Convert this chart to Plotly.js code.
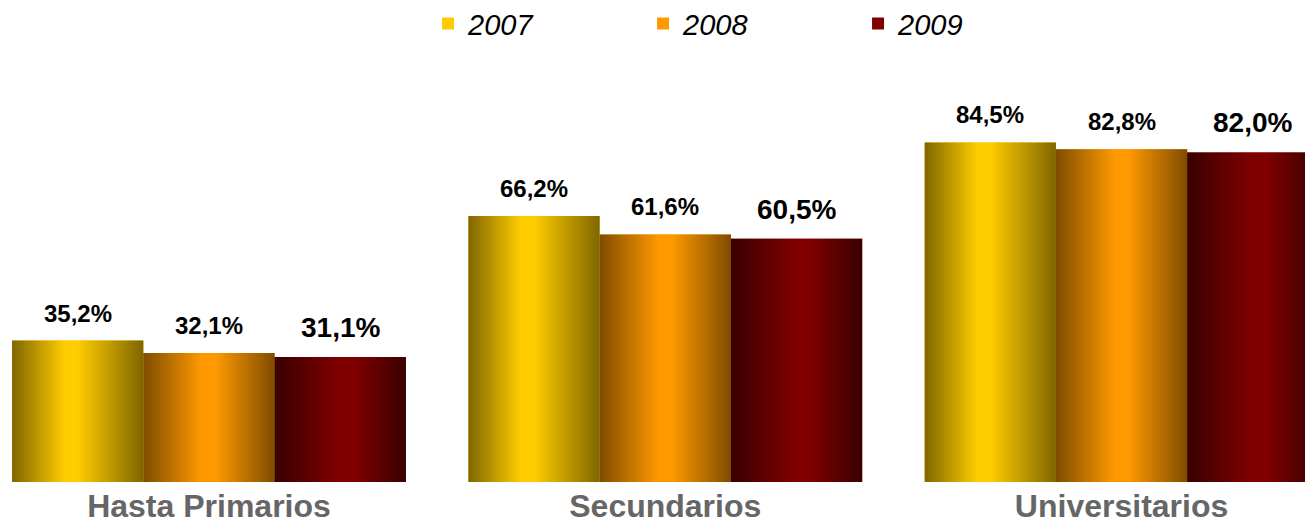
<!DOCTYPE html>
<html>
<head>
<meta charset="utf-8">
<script src="https://cdn.plot.ly/plotly-3.0.1.min.js"></script>
<style>html,body{margin:0;padding:0;background:#fff;}#chart{width:1305px;height:525px;}</style>
</head>
<body>
<div id="chart"></div>
<script>
// ---- data ----
const categories = ['Hasta Primarios', 'Secundarios', 'Universitarios'];
const years = ['2007', '2008', '2009'];
const values2007 = [35.2, 66.2, 84.5];
const values2008 = [32.1, 61.6, 82.8];
const values2009 = [31.1, 60.5, 82.0];

// ---- styles ----
const lightColors = ['#ffcc00', '#ff9900', '#800000'];
const darkColors = ['#7f6600', '#7f4c00', '#3a0000'];
const peakStart = [0.40, 0.45, 0.50];
const peakEnd = [0.50, 0.55, 0.60];
const labelSizes = [24, 24, 28];
const FONT = 'Liberation Sans, Arial, Helvetica, sans-serif';

const series = [values2007, values2008, values2009];
const catIdx = categories.map((_, i) => i);
const bargap = 0.137;
const groupW = 1 - bargap;
const barW = groupW / years.length;

const fmt = v => v.toFixed(1).replace('.', ',') + '%';

const traces = [];
const annotations = [];

// real bar traces (legend + geometry)
series.forEach((vals, s) => {
  const off = -groupW / 2 + s * barW;
  traces.push({
    type: 'bar', name: years[s], x: catIdx, y: vals,
    width: barW, offset: off,
    marker: {color: lightColors[s], line: {width: 0}},
    hovertemplate: '%{y:.1f}%<extra>' + years[s] + '</extra>'
  });
});

// gradient shading on top of each bar (same geometry, derived from the data)
series.forEach((vals, s) => {
  const off = -groupW / 2 + s * barW;
  vals.forEach((v, c) => {
    const x0 = c + off, x1 = x0 + barW;
    traces.push({
      type: 'scatter', mode: 'lines',
      x: [x0, x1, x1, x0, x0], y: [0, 0, v, v, 0],
      fill: 'toself', line: {width: 0},
      fillgradient: {type: 'horizontal', colorscale: [
        [0, darkColors[s]], [peakStart[s], lightColors[s]],
        [peakEnd[s], lightColors[s]], [1, darkColors[s]]]},
      hoverinfo: 'skip', showlegend: false
    });
    annotations.push({
      x: x0 + barW / 2, y: v, xref: 'x', yref: 'y',
      text: '<b>' + fmt(v) + '</b>', showarrow: false,
      yanchor: 'bottom', yshift: 12,
      font: {family: FONT, size: labelSizes[s], color: '#000000'}
    });
  });
});

const layout = {
  width: 1305, height: 525,
  margin: {l: 0, r: 0, t: 60, b: 43},
  paper_bgcolor: '#ffffff', plot_bgcolor: '#ffffff',
  barmode: 'overlay',
  showlegend: true,
  legend: {
    orientation: 'h', x: 0.328, xanchor: 'left', y: 0.955, yref: 'container', yanchor: 'middle',
    font: {family: FONT, size: 29, style: 'italic', color: '#000000'},
    entrywidth: 170, entrywidthmode: 'pixels', traceorder: 'normal'
  },
  xaxis: {
    range: [-0.458, 2.402], tickvals: catIdx, ticktext: categories,
    showgrid: false, zeroline: false, showline: false, ticks: '',
    tickfont: {family: FONT, size: 32, color: '#666666', weight: 'bold'},
    ticklabelstandoff: 2,
    automargin: false, fixedrange: true
  },
  yaxis: {range: [0, 105], visible: false, fixedrange: true},
  annotations: annotations,
  font: {family: FONT}
};

Plotly.newPlot('chart', traces, layout, {displayModeBar: false, staticPlot: false});
</script>
</body>
</html>
